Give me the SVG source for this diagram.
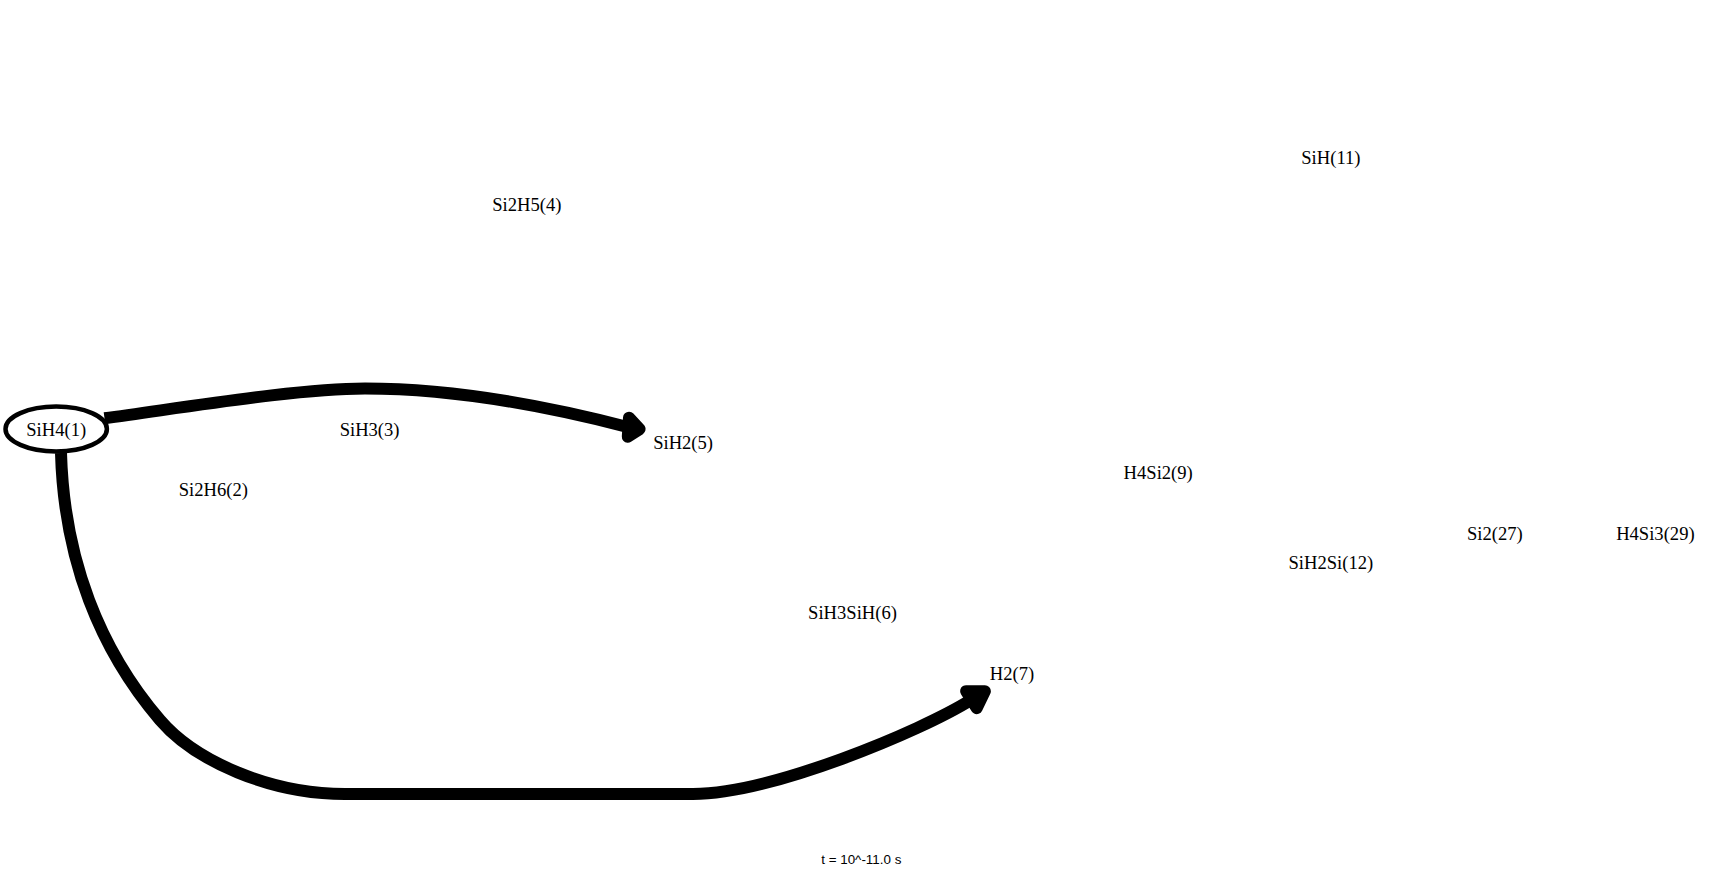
<svg xmlns="http://www.w3.org/2000/svg" width="1726" height="877" viewBox="0 0 1726 877">
<style>
.lbl{font-family:"Liberation Serif","Times New Roman",serif;font-size:18.6px;fill:#000;text-anchor:middle}
.t{font-family:"Liberation Sans",Arial,sans-serif;font-size:13.4px;fill:#000;text-anchor:middle}
.edge{fill:none;stroke:#000;stroke-width:12}
.head{fill:#000;stroke:#000;stroke-width:12;stroke-linejoin:round}
</style>
<rect width="1726" height="877" fill="#fff"/>
<g id="connectors">
<g id="e1">
<path class="edge" d="M104.5,418.3 C194.5,406 300,388.5 365,388.5 C470,388.5 580,414.6 628.4,427.2"/>
<polygon class="head" points="639.6,429.1 629,417.7 627.8,436.7"/>
</g>
<g id="e2">
<path class="edge" d="M61,453 C64,560 100,650 160,720 C195,761 270,794 345,794 L693,794 C770,794 920.6,731.6 971.4,699.7"/>
<polygon class="head" points="984.9,691.2 976.7,708.2 966.1,691.2"/>
</g>
</g>
<g id="n1"><ellipse cx="56.2" cy="429" rx="50.7" ry="22.4" fill="none" stroke="#000" stroke-width="4.5"/><text class="lbl" x="56.2" y="435.5">SiH4(1)</text></g>
<g id="n3"><text class="lbl" x="369.6" y="436">SiH3(3)</text></g>
<g id="n5"><text class="lbl" x="683.1" y="448.9">SiH2(5)</text></g>
<g id="n4"><text class="lbl" x="526.9" y="211.3">Si2H5(4)</text></g>
<g id="n2"><text class="lbl" x="213.4" y="496.1">Si2H6(2)</text></g>
<g id="n6"><text class="lbl" x="852.5" y="619.4">SiH3SiH(6)</text></g>
<g id="n7"><text class="lbl" x="1012" y="680">H2(7)</text></g>
<g id="n9"><text class="lbl" x="1158.2" y="478.7">H4Si2(9)</text></g>
<g id="n11"><text class="lbl" x="1330.9" y="164">SiH(11)</text></g>
<g id="n12"><text class="lbl" x="1330.9" y="568.7">SiH2Si(12)</text></g>
<g id="n27"><text class="lbl" x="1494.9" y="540.3">Si2(27)</text></g>
<g id="n29"><text class="lbl" x="1655.4" y="540.3">H4Si3(29)</text></g>
<text class="t" x="861.3" y="863.5">t = 10^-11.0 s</text>
</svg>
